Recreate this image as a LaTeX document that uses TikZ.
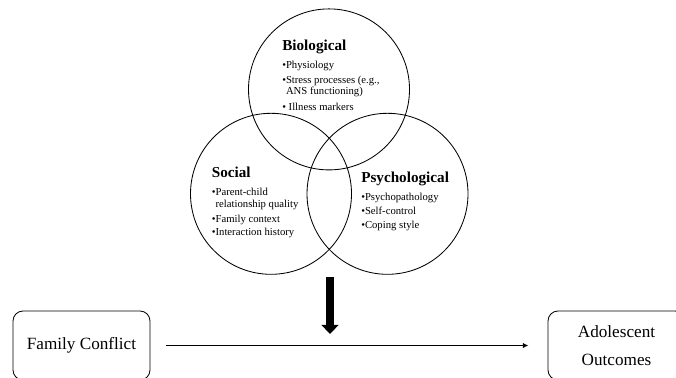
\documentclass[tikz,border=0pt]{standalone}
\usepackage{fontspec}
\setmainfont{Liberation Serif}
\usetikzlibrary{arrows.meta}
\tikzstyle{ring} = [draw, circle, minimum size=4.025cm, inner sep=0pt, line width=0.6pt]
\tikzstyle{head} = [anchor=base west, inner sep=0pt, font=\fontsize{10.8}{13}\selectfont\bfseries]
\tikzstyle{items} = [anchor=north west, inner sep=0pt, align=left, font=\fontsize{7.6}{8.3}\selectfont]
\tikzstyle{outcome} = [draw, rounded corners=0.25cm, minimum width=3.425cm, minimum height=1.725cm, align=center, line width=0.6pt, font=\fontsize{12.2}{19.5}\selectfont]

\begin{document}
\begin{tikzpicture}
  \useasboundingbox (0,0) rectangle (16.9,9.425);
  \node (bio) at (8.225,7.19) [ring] {};
  \node (soc) at (6.775,4.58) [ring] {};
  \node (psy) at (9.6875,4.58) [ring] {};

  \node (biohead) at (7.05,8.158) [head] {Biological};
  \node (biolist) at ([yshift=-7.4pt]biohead.base west) [items] {•Physiology\\[2pt] •Stress processes (e.g.,\\ \phantom{•}ANS functioning)\\[2.5pt] • Illness markers};
  \node (sochead) at (5.29,4.98) [head] {Social};
  \node (soclist) at ([yshift=-7.4pt]sochead.base west) [items] {•Parent-child\\ \phantom{•}relationship quality\\[2.5pt] •Family context\\[1pt] •Interaction history};
  \node (psyhead) at (9.025,4.857) [head] {Psychological};
  \node (psylist) at ([yshift=-7.4pt]psyhead.base west) [items] {•Psychopathology\\[1.5pt] •Self-control\\[1.5pt] •Coping style};

  \node (fam) at (2.0375,0.7875) [outcome] {Family Conflict};
  \node (ado) at (15.4125,0.7875) [outcome] {Adolescent\\Outcomes};
  \coordinate (m) at (8.25,2.5);
  \coordinate (n) at (8.25,1.075);
  \draw [-{Triangle[width=12pt,length=6.5pt]}, line width=6pt] (m) -- (n);
  \draw [-{Latex[length=4pt,width=4pt]}, line width=1pt, shorten <=0.4cm, shorten >=0.48cm] (fam) -- (ado);
\end{tikzpicture}
\end{document}
